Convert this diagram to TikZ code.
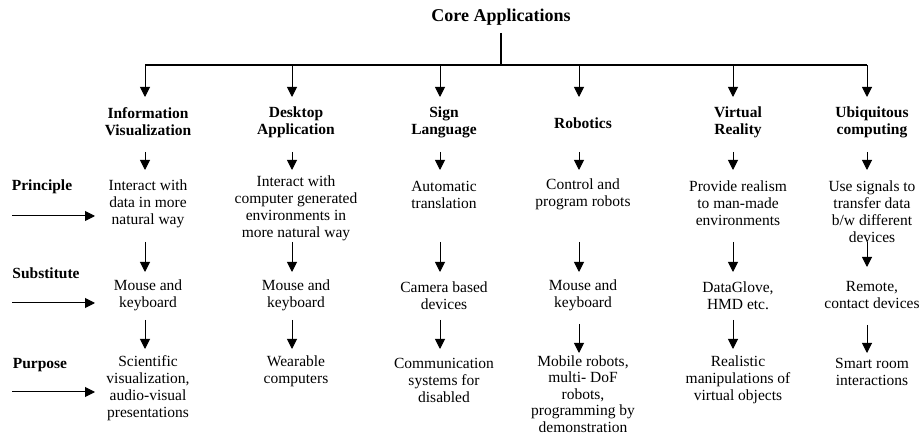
\documentclass[tikz,border=0pt]{standalone}
\usepackage{fontspec}
\setmainfont{Liberation Serif}
\usetikzlibrary{arrows.meta}
\begin{document}
\begin{tikzpicture}[x=1pt,y=-1pt,
  txt/.style={align=center,inner sep=0pt,font=\fontsize{15.5}{17}\selectfont},
  head/.style={align=center,inner sep=0pt,font=\fontsize{15.5}{17}\selectfont\bfseries},
  lab/.style={inner sep=0pt,font=\fontsize{15.5}{17}\selectfont\bfseries},
  arr/.style={-{Triangle[length=10pt,width=10pt]},line width=1pt},
  barline/.style={line width=1.3pt}]
\useasboundingbox (0,0) rectangle (922,435);
% title
\node[inner sep=0pt,font=\fontsize{18}{20}\selectfont\bfseries] (title) at (501,17) {Core Applications};
\coordinate (t0) at (501,33);
\coordinate (t1) at (501,65);
\coordinate (bl) at (145,65);
\coordinate (br) at (867,65);
\draw[barline] (t0) -- (t1);
\draw[barline] (bl) -- (br);
% headings
\node[head] (h1) at (148,122) {Information\\Visualization};
\node[head] (h2) at (296,122) {Desktop\\Application};
\node[head] (h3) at (444,122) {Sign\\Language};
\node[head] (h4) at (583,123) {Robotics};
\node[head] (h5) at (738,122) {Virtual\\Reality};
\node[head] (h6) at (872,122) {Ubiquitous\\computing};
% principle
\node[txt] (p1) at (148,203.5) {Interact with\\data in more\\natural way};
\node[txt] (p2) at (296,208) {Interact with\\computer generated\\environments in\\more natural way};
\node[txt] (p3) at (444,194.5) {Automatic\\translation};
\node[txt] (p4) at (583,194.5) {Control and\\program robots};
\node[txt] (p5) at (738,203.5) {Provide realism\\to man-made\\environments};
\node[txt] (p6) at (872,212) {Use signals to\\transfer data\\b/w different\\devices};
% substitute
\node[txt] (s1) at (148,295.5) {Mouse and\\keyboard};
\node[txt] (s2) at (296,295.5) {Mouse and\\keyboard};
\node[txt] (s3) at (444,295.5) {Camera based\\devices};
\node[txt] (s4) at (583,295.5) {Mouse and\\keyboard};
\node[txt] (s5) at (738,295.5) {DataGlove,\\HMD etc.};
\node[txt] (s6) at (872,295.5) {Remote,\\contact devices};
% purpose
\node[txt] (u1) at (148,388) {Scientific\\visualization,\\audio-visual\\presentations};
\node[txt] (u2) at (296,371.5) {Wearable\\computers};
\node[txt] (u3) at (444,380) {Communication\\systems for\\disabled};
\node[txt,font=\fontsize{15.5}{16.4}\selectfont] (u4) at (583,394) {Mobile robots,\\multi- DoF\\robots,\\programming by\\demonstration};
\node[txt] (u5) at (738,380) {Realistic\\manipulations of\\virtual objects};
\node[txt] (u6) at (872,372) {Smart room\\interactions};
% row labels
\node[lab] (lp) at (42,187) {Principle};
\node[lab] (ls) at (46,273) {Substitute};
\node[lab] (lu) at (40,365) {Purpose};
\coordinate (lp0) at (12,216); \coordinate (lp1) at (95,216);
\coordinate (ls0) at (12,303); \coordinate (ls1) at (95,303);
\coordinate (lu0) at (12,392); \coordinate (lu1) at (95,392);
\draw[arr] (lp0) -- (lp1);
\draw[arr] (ls0) -- (ls1);
\draw[arr] (lu0) -- (lu1);
% column arrows
\foreach \i/\x/\ra/\rb/\rc in {1/145/272/320/349,2/292/272/320/349,3/440/272/320/349,4/579/272/324/353,5/733/272/320/349,6/867/267/325/353}{
  \coordinate (a\i0) at (\x,65);  \coordinate (a\i1) at (\x,97);
  \coordinate (b\i0) at (\x,152); \coordinate (b\i1) at (\x,170);
  \coordinate (c\i0) at (\x,242); \coordinate (c\i1) at (\x,\ra);
  \coordinate (d\i0) at (\x,\rb); \coordinate (d\i1) at (\x,\rc);
  \draw[arr] (a\i0) -- (a\i1);
  \draw[arr] (b\i0) -- (b\i1);
  \draw[arr] (c\i0) -- (c\i1);
  \draw[arr] (d\i0) -- (d\i1);
}
\end{tikzpicture}
\end{document}
